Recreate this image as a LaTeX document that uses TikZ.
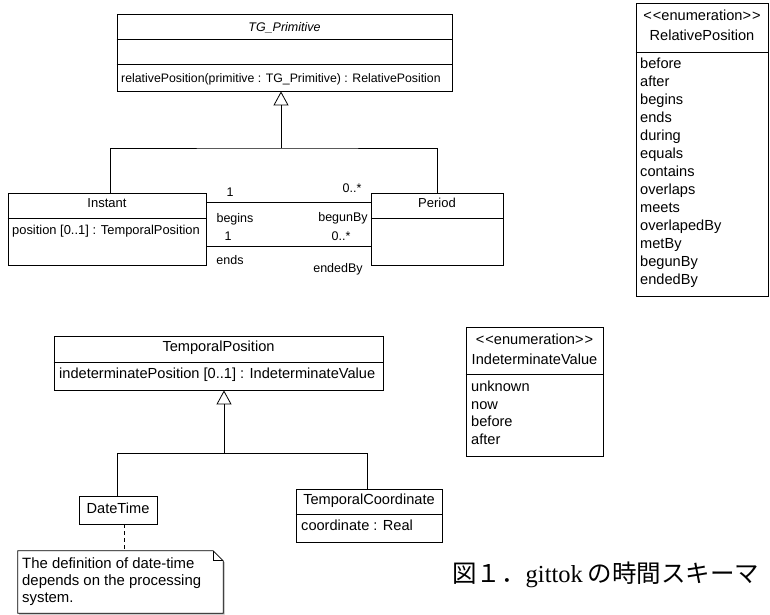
\documentclass[tikz,border=0pt]{standalone}
\usepackage{fontspec}
\setmainfont{Liberation Sans}
\newfontfamily\cjkfont{Noto Sans CJK JP}
\newfontfamily\seriffont{Liberation Serif}
\usetikzlibrary{arrows.meta,shadows}
\newcommand{\fsA}{\fontsize{12.5}{16}\selectfont}
\newcommand{\fsB}{\fontsize{14.6}{17}\selectfont}
\begin{document}
\begin{tikzpicture}[x=1pt,y=-1pt,
  font=\fsA,
  box/.style={draw, line width=0.8pt, fill=white, inner sep=0pt,
    drop shadow={shadow xshift=1.3pt, shadow yshift=-1.3pt, fill=black, opacity=0.3}},
  lbl/.style={inner sep=0pt, anchor=base},
  lbll/.style={inner sep=0pt, anchor=base west},
  big/.style={font=\fsB},
  ln/.style={line width=0.8pt},
  gen/.style={ln, -{Triangle[open, length=14pt, width=15pt, line width=0.8pt]}}]
\useasboundingbox (0,0) rectangle (770,614);

% ---------- TG_Primitive ----------
\node[box, minimum width=335pt, minimum height=77pt] (tgp) at (284.5,52.5) {};
\draw[ln] ([yshift=-26pt]tgp.north west) -- ([yshift=-26pt]tgp.north east);
\draw[ln] ([yshift=-51pt]tgp.north west) -- ([yshift=-51pt]tgp.north east);
\node[lbl, font=\fsA\itshape] (tgpn) at (284.5,31.5) {TG\_Primitive};
\node[lbll, font=\fontsize{12.3}{16}\selectfont] (tgpm) at (121,82.5) {relativePosition(primitive : TG\_Primitive) : RelativePosition};

% ---------- Instant ----------
\node[box, minimum width=198pt, minimum height=72pt] (inst) at (107,229) {};
\draw[ln] ([yshift=-26pt]inst.north west) -- ([yshift=-26pt]inst.north east);
\node[lbl, font=\fontsize{13}{16}\selectfont] (instn) at (107,207.7) {Instant};
\node[lbll, font=\fontsize{12.9}{16}\selectfont] (insta) at (12,234.5) {position [0..1] : TemporalPosition};

% ---------- Period ----------
\node[box, minimum width=132pt, minimum height=72pt] (per) at (437,229) {};
\draw[ln] ([yshift=-26pt]per.north west) -- ([yshift=-26pt]per.north east);
\node[lbl, font=\fontsize{13}{16}\selectfont] (pern) at (437,207.7) {Period};

% ---------- generalization (top) ----------
\coordinate (j1) at (281,148);
\draw[ln] ([xshift=3pt]inst.north) |- (j1) -| (per.north);
\draw[gen] (j1) -- (j1 |- tgp.south);

% ---------- associations ----------
\draw[ln] ([yshift=27pt]inst.east) -- ([yshift=27pt]per.west);
\draw[ln] ([yshift=-17pt]inst.east) -- ([yshift=-17pt]per.west);
\node[lbl] (m1) at (230,196.5) {1};
\node[lbl] (m2) at (352,192.5) {0..*};
\node[lbl] (r1) at (235,222.5) {begins};
\node[lbl] (r2) at (343,221.5) {begunBy};
\node[lbl] (m3) at (228,240.5) {1};
\node[lbl] (m4) at (341,240.5) {0..*};
\node[lbl] (r3) at (230,264.5) {ends};
\node[lbl] (r4) at (338,272.5) {endedBy};

% ---------- RelativePosition ----------
\node[box, minimum width=132pt, minimum height=293pt] (rp) at (702,149.5) {};
\draw[ln] ([yshift=-50pt]rp.north west) -- ([yshift=-50pt]rp.north east);
\node[lbl, big] (rps) at (702,20.3) {<\kern1pt<enumeration>\kern1pt>};
\node[lbl, big] (rpn) at (702,40.3) {RelativePosition};
\foreach \w [count=\i from 0] in {before,after,begins,ends,during,equals,contains,overlaps,meets,overlapedBy,metBy,begunBy,endedBy}
  \node[lbll, big] (rpi\i) at (640,68.3+18*\i) {\w};

% ---------- TemporalPosition ----------
\node[box, minimum width=329pt, minimum height=54pt] (tp) at (218.5,363) {};
\draw[ln] ([yshift=-27pt]tp.north west) -- ([yshift=-27pt]tp.north east);
\node[lbl, big] (tpn) at (218.5,351.3) {TemporalPosition};
\node[lbll, big] (tpa) at (59,378.3) {indeterminatePosition [0..1] : IndeterminateValue};

% ---------- DateTime / TemporalCoordinate ----------
\node[box, minimum width=78pt, minimum height=28pt] (dt) at (118,510) {};
\node[lbl, big] (dtn) at (118,513.3) {DateTime};
\node[box, minimum width=146pt, minimum height=53pt] (tc) at (369,515.5) {};
\draw[ln] ([yshift=-26pt]tc.north west) -- ([yshift=-26pt]tc.north east);
\node[lbl, big] (tcn) at (369,504.3) {TemporalCoordinate};
\node[lbll, big] (tca) at (301,530.3) {coordinate : Real};

\coordinate (j2) at (224,453);
\draw[ln] ([xshift=-1pt]dt.north) |- (j2) -| ([xshift=-2pt]tc.north);
\draw[gen] (j2) -- (j2 |- tp.south);

% ---------- Note ----------
\node[inner sep=0pt, minimum width=205pt, minimum height=62pt] (note) at (120.5,582) {};
\fill[black, opacity=0.3] ([xshift=1.3pt,yshift=-1.3pt]note.north west) -- ([xshift=-8.7pt,yshift=-1.3pt]note.north east) -- ([xshift=1.3pt,yshift=-11.3pt]note.north east) -- ([xshift=1.3pt,yshift=-1.3pt]note.south east) -- ([xshift=1.3pt,yshift=-1.3pt]note.south west) -- cycle;
\draw[ln, fill=white] (note.north west) -- ([xshift=-10pt]note.north east) -- ([yshift=-10pt]note.north east) -- (note.south east) -- (note.south west) -- cycle;
\draw[ln] ([xshift=-10pt]note.north east) -- ([xshift=-10pt,yshift=-10pt]note.north east) -- ([yshift=-10pt]note.north east);
\node[lbll, font=\fontsize{14.9}{17}\selectfont] (note1) at (22,568.4) {The definition of date-time};
\node[lbll, font=\fontsize{14.9}{17}\selectfont] (note2) at (22,585.4) {depends on the processing};
\node[lbll, font=\fontsize{14.9}{17}\selectfont] (note3) at (22,602.4) {system.};
\draw[ln, dash pattern=on 4pt off 3pt] ([xshift=6pt]dt.south) -- ([xshift=6pt]dt.south |- note.north);

% ---------- IndeterminateValue ----------
\node[box, minimum width=137pt, minimum height=129pt] (iv) at (534.5,391.5) {};
\draw[ln] ([yshift=-48pt]iv.north west) -- ([yshift=-48pt]iv.north east);
\node[lbl, big] (ivs) at (534.5,344.3) {<\kern1pt<enumeration>\kern1pt>};
\node[lbl, big] (ivn) at (534.5,364.3) {IndeterminateValue};
\foreach \w [count=\i from 0] in {unknown,now,before,after}
  \node[lbll, big] (ivi\i) at (471,391.3+17.7*\i) {\w};

% ---------- Caption ----------
\node[inner sep=0pt, anchor=base west] (cap) at (452,582)
  {\cjkfont\fontsize{24.5}{24.5}\selectfont 図１．{\seriffont gittok}\kern5pt の時間スキーマ};
\end{tikzpicture}
\end{document}
